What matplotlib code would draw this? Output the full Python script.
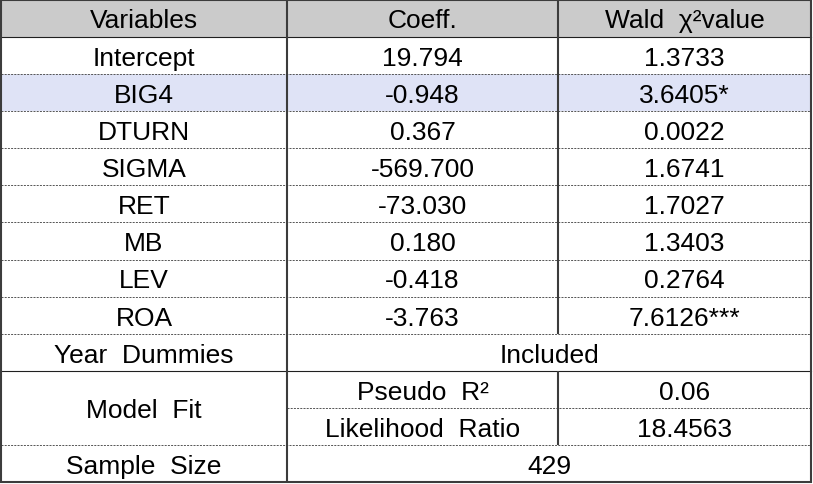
import matplotlib
matplotlib.use("Agg")
import matplotlib.pyplot as plt
from matplotlib.patches import Rectangle

# ---- data ----
headers = ["Variables", "Coeff.", "Wald  χ²value"]
variables = ["Intercept", "BIG4", "DTURN", "SIGMA", "RET", "MB", "LEV", "ROA"]
coeffs = [19.794, -0.948, 0.367, -569.700, -73.030, 0.180, -0.418, -3.763]
wald = [1.3733, 3.6405, 0.0022, 1.6741, 1.7027, 1.3403, 0.2764, 7.6126]
stars = ["", "*", "", "", "", "", "", "***"]
highlight_var = "BIG4"
year_label = "Year  Dummies"
year_value = "Included"
fit_label = "Model  Fit"
fit_items = ["Pseudo  R²", "Likelihood  Ratio"]
fit_values = ["0.06", "18.4563"]
sample_label = "Sample  Size"
sample_size = 429

# ---- layout ----
W, H = 813, 485
fig = plt.figure(figsize=(W / 100, H / 100), dpi=100)
ax = fig.add_axes([0, 0, 1, 1])
ax.set_xlim(0, W)
ax.set_ylim(H, 0)
ax.axis("off")

font = "Liberation Sans"
fs = 19
xs = [1.0, 287.0, 558.0, 811.0]
top = 0.5
rh = 37.15
n_rows = 1 + len(variables) + 1 + len(fit_items) + 1


def ry(i):
    return top + i * rh


def cell_text(x_lo, x_hi, i, s, i_span=1):
    yc = ry(i) + rh * i_span / 2
    ax.text((x_lo + x_hi) / 2, yc + 9.3, s, ha="center", va="baseline",
            fontsize=fs, family=font, color="#000000")

border_c = "#3c3c3c"
dot_c = "#5a5a5a"

# backgrounds
ax.add_patch(Rectangle((xs[0], ry(0)), xs[3] - xs[0], rh, facecolor="#cbcbcb",
                       edgecolor="none", zorder=0))
hi = variables.index(highlight_var) + 1
ax.add_patch(Rectangle((xs[0], ry(hi)), xs[3] - xs[0], rh, facecolor="#dfe3f6",
                       edgecolor="none", zorder=0))

# header
for c, h in enumerate(headers):
    cell_text(xs[c], xs[c + 1], 0, h)

# variable rows
for k, v in enumerate(variables):
    i = k + 1
    cell_text(xs[0], xs[1], i, v)
    cell_text(xs[1], xs[2], i, f"{coeffs[k]:.3f}")
    cell_text(xs[2], xs[3], i, f"{wald[k]:.4f}{stars[k]}")

iy = len(variables) + 1
cell_text(xs[0], xs[1], iy, year_label)
cell_text(xs[1], xs[3], iy, year_value)

ifit = iy + 1
cell_text(xs[0], xs[1], ifit, fit_label, i_span=len(fit_items))
for k, (lab, val) in enumerate(zip(fit_items, fit_values)):
    cell_text(xs[1], xs[2], ifit + k, lab)
    cell_text(xs[2], xs[3], ifit + k, val)

isz = ifit + len(fit_items)
cell_text(xs[0], xs[1], isz, sample_label)
cell_text(xs[1], xs[3], isz, str(sample_size))

# lines
dot = dict(color=dot_c, lw=0.72, linestyle=(0, (2, 1.2)), zorder=2)
solid_thin = dict(color="#202020", lw=0.8, zorder=3)
thick = dict(color=border_c, lw=1.5, zorder=4, solid_capstyle="butt")

ax.plot([xs[0], xs[3]], [ry(1), ry(1)], **solid_thin)
for i in range(2, iy + 1):
    ax.plot([xs[0], xs[3]], [ry(i), ry(i)], **dot)
ax.plot([xs[0], xs[3]], [ry(ifit), ry(ifit)], **solid_thin)
for k in range(1, len(fit_items)):
    ax.plot([xs[1], xs[3]], [ry(ifit + k), ry(ifit + k)], **dot)
ax.plot([xs[0], xs[3]], [ry(isz), ry(isz)], **dot)

# vertical dividers
ax.plot([xs[1], xs[1]], [ry(0), ry(n_rows)], **thick)
ax.plot([xs[2], xs[2]], [ry(0), ry(iy)], **thick)
ax.plot([xs[2], xs[2]], [ry(ifit), ry(isz)], **thick)

# outer border
ax.add_patch(Rectangle((xs[0], ry(0)), xs[3] - xs[0], ry(n_rows) - ry(0),
                       facecolor="none", edgecolor=border_c, lw=1.5, zorder=5))

fig.savefig("out.png", dpi=100)
